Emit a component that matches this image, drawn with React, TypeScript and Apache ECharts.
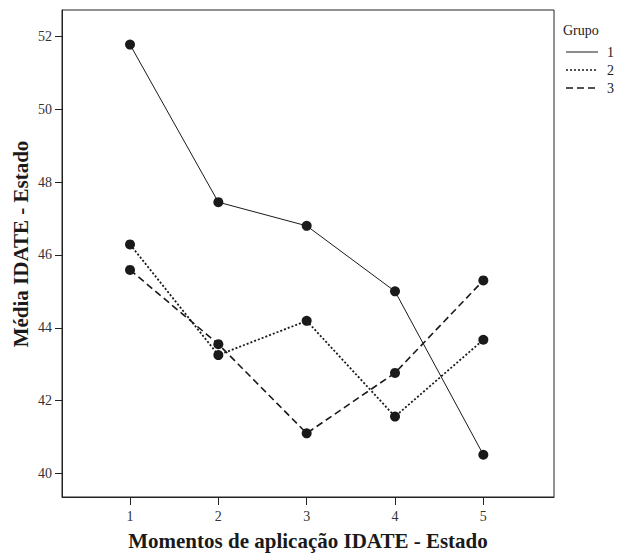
import React, { useEffect, useRef } from "react";
import * as echarts from "echarts";

const moments = [1, 2, 3, 4, 5];
const groupNames = ["1", "2", "3"];
const group1 = [51.78, 47.45, 46.8, 45.0, 40.51];
const group2 = [46.29, 43.25, 44.19, 41.56, 43.67];
const group3 = [45.59, 43.55, 41.1, 42.76, 45.3];
const yTicks = [40, 42, 44, 46, 48, 50, 52];

const INK = "#1a1a1a";
const FONT = "'Liberation Serif', 'Times New Roman', serif";

export default function App() {
  const ref = useRef<HTMLDivElement>(null);
  useEffect(() => {
    if (!ref.current) return;
    const chart = echarts.init(ref.current, undefined, { renderer: "svg" });
    const allGroups = [group1, group2, group3];
    const lineTypes: any[] = ["solid", [2, 2], [7, 4]];
    const lineWidths = [1, 1.8, 1.6];
    const series = allGroups.map((g, i) => ({
      name: groupNames[i],
      type: "line",
      data: moments.map((m, j) => [m, g[j]]),
      symbol: "circle",
      symbolSize: 10,
      itemStyle: { color: INK },
      lineStyle: { color: INK, width: lineWidths[i], type: lineTypes[i] },
      z: 3 - i,
    }));
    const legendTop = 52;
    const legendGap = 18;
    const graphics: any[] = [
      {
        type: "text",
        x: 563,
        y: 30,
        style: { text: "Grupo", font: `14px ${FONT}`, fill: INK, verticalAlign: "middle" },
      },
      {
        type: "text",
        x: 21,
        y: 244,
        rotation: Math.PI / 2,
        style: {
          text: "Média IDATE - Estado",
          font: `bold 21px ${FONT}`,
          fill: INK,
          align: "center",
          verticalAlign: "middle",
        },
      },
    ];
    groupNames.forEach((n, i) => {
      const y = legendTop + i * legendGap;
      graphics.push({
        type: "line",
        shape: { x1: 566, y1: y, x2: 598, y2: y },
        style: {
          stroke: INK,
          lineWidth: i === 0 ? 1 : 1.5,
          lineDash: i === 0 ? null : lineTypes[i],
        },
      });
      graphics.push({
        type: "text",
        x: 607,
        y: y,
        style: {
          text: n,
          font: `14px ${FONT}`,
          fill: INK,
          verticalAlign: "middle",
        },
      });
    });
    chart.setOption({
      animation: false,
      backgroundColor: "#ffffff",
      grid: {
        left: 62,
        top: 10,
        right: 65,
        bottom: 54,
        show: true,
        borderColor: "#222",
        borderWidth: 1,
        containLabel: false,
      },
      xAxis: {
        type: "value",
        min: 0.23,
        max: 5.8,
        name: "Momentos de aplicação IDATE - Estado",
        nameLocation: "middle",
        nameGap: 33,
        nameTextStyle: { fontFamily: FONT, fontWeight: "bold", fontSize: 21, color: INK },
        axisLine: { show: true, lineStyle: { color: "#222", width: 1 } },
        axisTick: { show: true, customValues: moments, length: 8, lineStyle: { color: "#222" } },
        axisLabel: { customValues: moments, fontFamily: FONT, fontSize: 14, color: "#333", margin: 12 },
        splitLine: { show: false },
      },
      yAxis: {
        type: "value",
        min: 39.35,
        max: 52.73,
        axisLine: { show: true, lineStyle: { color: "#222", width: 1 } },
        axisTick: { show: true, customValues: yTicks, length: 7, lineStyle: { color: "#222" } },
        axisLabel: { customValues: yTicks, fontFamily: FONT, fontSize: 14, color: "#333", margin: 10 },
        splitLine: { show: false },
      },
      series,
      graphic: graphics,
    });
    return () => chart.dispose();
  }, []);
  return (
    <div
      ref={ref}
      style={{ position: "fixed", left: 0, top: 0, width: 619, height: 556 }}
    />
  );
}
